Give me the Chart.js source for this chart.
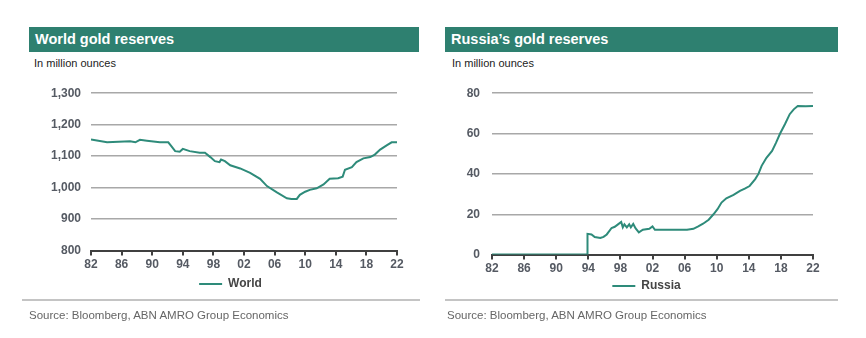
<!DOCTYPE html>
<html>
<head>
<meta charset="utf-8">
<script src="https://cdn.jsdelivr.net/npm/chart.js@4.4.1/dist/chart.umd.min.js"></script>
<style>
  body { margin: 0; width: 866px; height: 338px; background: #fff; position: relative; overflow: hidden;
         font-family: "Liberation Sans", Arial, sans-serif; }
  .bar { position: absolute; top: 27px; height: 25px; background: #2e8070; color: #fff;
         font-weight: bold; font-size: 14.5px; line-height: 25px; box-sizing: border-box; padding-left: 6px; }
  .unit { position: absolute; top: 57px; font-size: 11px; line-height: 12px; color: #222; }
  .rule { position: absolute; top: 299px; height: 2px; background: #c4c4c4; }
  .src  { position: absolute; top: 308px; font-size: 11.5px; line-height: 14px; color: #666; }
  .box  { position: absolute; }
</style>
</head>
<body>
<div class="bar" style="left:29px; width:390px;">World gold reserves</div>
<div class="unit" style="left:34px;">In million ounces</div>
<div class="box" style="left:20px; top:76px; width:400px; height:224px;"><canvas id="worldChart"></canvas></div>
<div class="rule" style="left:22px; width:398px;"></div>
<div class="src" style="left:29px;">Source: Bloomberg, ABN AMRO Group Economics</div>

<div class="bar" style="left:445px; width:393px;">Russia’s gold reserves</div>
<div class="unit" style="left:452px;">In million ounces</div>
<div class="box" style="left:430px; top:74px; width:420px; height:228px;"><canvas id="russiaChart"></canvas></div>
<div class="rule" style="left:445px; width:393px;"></div>
<div class="src" style="left:447px;">Source: Bloomberg, ABN AMRO Group Economics</div>

<script>
/* values (year, million ounces) */
const tickYears = [1982, 1986, 1990, 1994, 1998, 2002, 2006, 2010, 2014, 2018, 2022];

const worldYears = [1982.0, 1984.1, 1987.1, 1987.8, 1988.4, 1989.3, 1991.0, 1992.1, 1992.5, 1993.0,
                    1993.6, 1994.0, 1994.9, 1996.2, 1996.9, 1997.6, 1998.2, 1998.8, 1999.0, 1999.5,
                    2000.2, 2001.5, 2002.8, 2004.1, 2005.0, 2006.3, 2007.6, 2008.2, 2008.9, 2009.3,
                    2010.0, 2010.6, 2011.5, 2012.4, 2013.2, 2014.3, 2014.9, 2015.2, 2016.1, 2016.7,
                    2017.6, 2018.5, 2019.1, 2019.8, 2020.7, 2021.3, 2022.0];
const worldValues = [1153, 1144, 1147, 1144, 1152, 1149, 1144, 1144, 1132, 1116,
                     1114, 1123, 1116, 1111, 1111, 1097, 1084, 1081, 1089, 1084,
                     1071, 1061, 1047, 1028, 1005, 985, 966, 964, 964, 977,
                     987, 993, 998, 1010, 1028, 1030, 1035, 1057, 1065, 1081,
                     1093, 1097, 1105, 1121, 1135, 1144, 1144];

const russiaYears = [1982.0, 1993.85, 1993.9, 1994.4, 1994.8, 1995.5, 1995.9, 1996.3, 1996.9, 1997.3,
                     1997.7, 1998.1, 1998.3, 1998.5, 1998.8, 1999.1, 1999.3, 1999.6, 1999.9, 2000.3,
                     2000.8, 2001.6, 2002.0, 2002.3, 2006.3, 2007.1, 2007.7, 2008.3, 2009.0, 2009.6,
                     2010.1, 2010.6, 2011.2, 2012.1, 2012.9, 2013.5, 2014.1, 2014.8, 2015.2, 2015.6,
                     2016.2, 2016.9, 2017.4, 2017.9, 2018.5, 2019.1, 2019.6, 2020.1, 2021.1, 2022.0];
const russiaValues = [0, 0, 10.3, 10, 8.7, 8.2, 8.8, 10, 13.2, 13.8,
                      15, 16.2, 13.5, 15, 13.5, 15, 13.5, 15.2, 13, 11,
                      12.3, 12.8, 14, 12.3, 12.3, 12.8, 14, 15.3, 17.3, 20,
                      22.5, 25.8, 27.9, 29.6, 31.6, 32.7, 34, 37.4, 40, 44,
                      48, 51.4, 55.5, 60, 64.6, 69.6, 72, 73.7, 73.5, 73.7];

const TEAL = '#2e8b7a';
const FONT = '"Liberation Sans", Arial, sans-serif';

/* nudges the legend sideways after layout: the reference legend sits right of centre */
const legendShift = {
  id: 'legendShift',
  afterLayout(chart, args, opts) {
    if (!chart.legend) return;
    chart.legend.left += opts.dx;
    chart.legend.right += opts.dx;
  }
};

function makeChart(id, label, xs, ys, yMin, yMax, yStep, o) {
  const points = xs.map((x, i) => ({ x: x, y: ys[i] }));
  return new Chart(document.getElementById(id), {
    type: 'line',
    data: {
      datasets: [{
        label: label,
        data: points,
        borderColor: TEAL,
        backgroundColor: TEAL,
        borderWidth: 2,
        pointRadius: 0,
        tension: 0
      }]
    },
    plugins: [legendShift],
    options: {
      responsive: true,
      maintainAspectRatio: false,
      animation: false,
      layout: { padding: { top: 0, right: o.padRight, left: 0, bottom: 0 } },
      plugins: {
        tooltip: { enabled: false },
        legendShift: { dx: o.legendDx },
        legend: {
          position: 'bottom',
          labels: {
            boxWidth: 23, boxHeight: 2, padding: o.legendPad,
            color: '#454545',
            font: { family: FONT, size: 12, weight: 'bold' },
            /* thin line swatch: no stroke round the legend box */
            generateLabels: (chart) => Chart.defaults.plugins.legend.labels.generateLabels(chart)
              .map(item => Object.assign(item, { lineWidth: 0 }))
          }
        }
      },
      scales: {
        x: {
          type: 'linear',
          min: tickYears[0],
          max: tickYears[tickYears.length - 1],
          afterBuildTicks: (axis) => { axis.ticks = tickYears.map(v => ({ value: v })); },
          ticks: {
            color: '#555a63',
            padding: 2,
            maxRotation: 0,
            font: { family: FONT, size: 12, weight: 'bold' },
            callback: (v) => String(v % 100).padStart(2, '0')
          },
          grid: { drawOnChartArea: false, drawTicks: true, tickLength: 5, color: '#404040', lineWidth: 2 },
          border: { color: '#404040', width: 2 }
        },
        y: {
          min: yMin,
          max: yMax,
          afterFit: (axis) => { axis.width = o.yWidth; },
          ticks: {
            stepSize: yStep,
            color: '#555a63',
            padding: o.yPad,
            font: { family: FONT, size: 12, weight: 'bold' },
            callback: (v) => v.toLocaleString('en-US')
          },
          grid: { color: '#a8a8a8', lineWidth: 1.5, drawTicks: false },
          border: { display: false }
        }
      }
    }
  });
}

makeChart('worldChart', 'World', worldYears, worldValues, 800, 1300, 100,
          { yWidth: 71, padRight: 23, yPad: 10, legendPad: 4, legendDx: 22 });
makeChart('russiaChart', 'Russia', russiaYears, russiaValues, 0, 80, 20,
          { yWidth: 62, padRight: 37, yPad: 12, legendPad: 2, legendDx: 25 });
</script>
</body>
</html>
